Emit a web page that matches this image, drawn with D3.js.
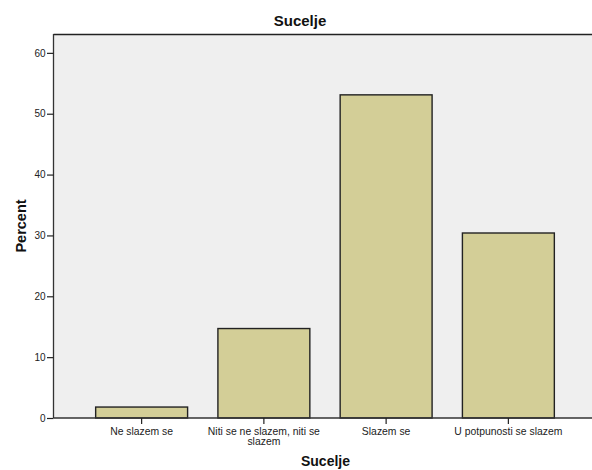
<!DOCTYPE html>
<html><head><meta charset="utf-8">
<script src="https://cdn.jsdelivr.net/npm/d3@7"></script>
<style>
html,body{margin:0;padding:0;background:#fff;}
svg{display:block;font-family:"Liberation Sans",Arial,sans-serif;}
</style></head>
<body>
<script>
const categories = ["Ne slazem se", "Niti se ne slazem, niti se slazem", "Slazem se", "U potpunosti se slazem"];
const categoryLines = [["Ne slazem se"], ["Niti se ne slazem, niti se", "slazem"], ["Slazem se"], ["U potpunosti se slazem"]];
const percentValues = [1.8, 14.7, 53.1, 30.4];
const yTicks = [0, 10, 20, 30, 40, 50, 60];
const chartTitle = "Sucelje";
const xTitle = "Sucelje";
const yTitle = "Percent";

const W = 592, H = 470;
const pLeft = 53.5, pTop = 34, pRight = 600, pBottom = 418;

const svg = d3.select("body").append("svg").attr("width", W).attr("height", H);

const x = d3.scaleBand().domain(categories).range([80.5, 569.5]).paddingInner(0.248).paddingOuter(0.124);
const y = d3.scaleLinear().domain([0, 63.1]).range([pBottom, pTop]);

// plot background
svg.append("rect").attr("x", pLeft).attr("y", pTop).attr("width", pRight - pLeft).attr("height", pBottom - pTop)
  .attr("fill", "#efefef");
// top frame
svg.append("line").attr("x1", pLeft).attr("x2", pRight).attr("y1", pTop + 0.5).attr("y2", pTop + 0.5)
  .attr("stroke", "#222").attr("stroke-width", 1.3);

// bars
svg.selectAll("rect.bar").data(categories).enter().append("rect").attr("class", "bar")
  .attr("x", d => x(d))
  .attr("y", (d, i) => y(percentValues[i]))
  .attr("width", x.bandwidth())
  .attr("height", (d, i) => y(0) - y(percentValues[i]))
  .attr("fill", "#d3ce97").attr("stroke", "#222").attr("stroke-width", 1.4);

// y axis
const yAxis = d3.axisLeft(y).tickValues(yTicks).tickSize(6.5).tickPadding(1.5).tickFormat(d3.format("d"));
const gy = svg.append("g").attr("transform", `translate(${pLeft},0)`).call(yAxis);
gy.select(".domain").attr("d", `M0,${pTop}V${pBottom}`).attr("stroke", "#333").attr("stroke-width", 1.3);
gy.selectAll(".tick line").attr("stroke", "#222").attr("stroke-width", 1.2);
gy.selectAll(".tick text").attr("font-size", 10).attr("fill", "#222").attr("font-family", "Liberation Sans, Arial, sans-serif");

// x axis
const xAxis = d3.axisBottom(x).tickSize(6).tickFormat("");
const gx = svg.append("g").attr("transform", `translate(0,${pBottom})`).call(xAxis);
gx.select(".domain").attr("d", `M${pLeft},0H${pRight}`).attr("stroke", "#333").attr("stroke-width", 1.5);
gx.selectAll(".tick line").attr("stroke", "#222").attr("stroke-width", 1.2);

// category labels
categories.forEach((c, i) => {
  const t = svg.append("text").attr("x", x(c) + x.bandwidth() / 2).attr("y", 434.5)
    .attr("text-anchor", "middle").attr("font-size", 10.4).attr("fill", "#222");
  categoryLines[i].forEach((ln, j) => {
    t.append("tspan").attr("x", x(c) + x.bandwidth() / 2).attr("dy", j === 0 ? 0 : 10.5).text(ln);
  });
});

// titles
svg.append("text").attr("x", 300).attr("y", 26).attr("text-anchor", "middle")
  .attr("font-size", 15).attr("font-weight", "bold").attr("fill", "#111").text(chartTitle);
svg.append("text").attr("x", 325.5).attr("y", 466).attr("text-anchor", "middle")
  .attr("font-size", 14).attr("font-weight", "bold").attr("fill", "#111").text(xTitle);
svg.append("text").attr("transform", `translate(25.5,226) rotate(-90)`).attr("text-anchor", "middle")
  .attr("font-size", 14.5).attr("font-weight", "bold").attr("fill", "#111").text(yTitle);
</script>
</body></html>
